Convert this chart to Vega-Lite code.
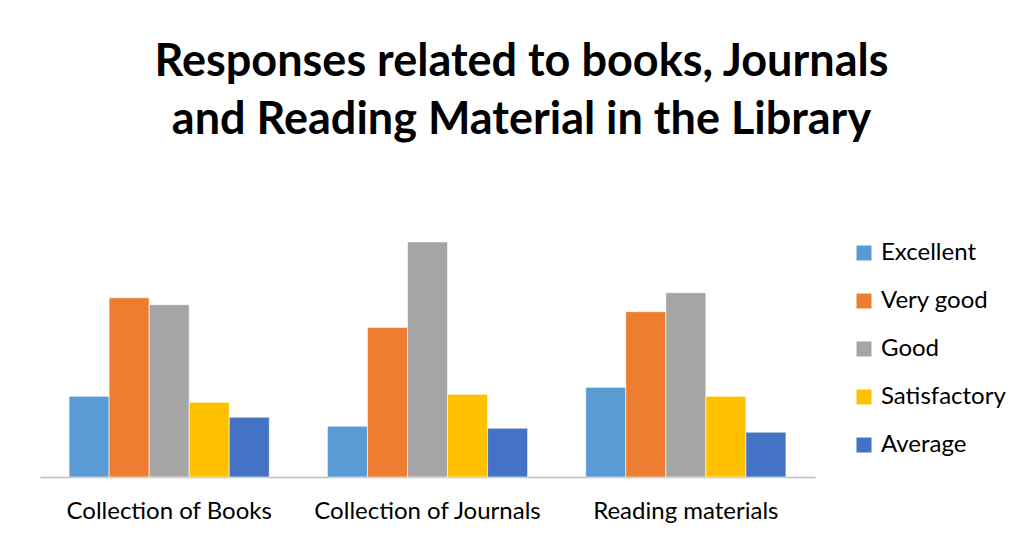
{
  "$schema": "https://vega.github.io/schema/vega-lite/v6.json",
  "autosize": "none",
  "width": 775,
  "height": 249,
  "padding": {"left": 40, "top": 228, "right": 203, "bottom": 58},
  "background": "white",
  "title": {
    "text": ["Responses related to books, Journals", "and Reading Material in the Library"],
    "font": "Lato",
    "fontSize": 45,
    "fontWeight": "bold",
    "color": "#000000",
    "anchor": "middle",
    "frame": "group",
    "dx": 94,
    "offset": 85,
    "lineHeight": 58
  },
  "data": {
    "values": [
      {"category": "Collection of Books", "rating": "Excellent", "value": 81},
      {"category": "Collection of Books", "rating": "Very good", "value": 180},
      {"category": "Collection of Books", "rating": "Good", "value": 173},
      {"category": "Collection of Books", "rating": "Satisfactory", "value": 75},
      {"category": "Collection of Books", "rating": "Average", "value": 60},
      {"category": "Collection of Journals", "rating": "Excellent", "value": 51},
      {"category": "Collection of Journals", "rating": "Very good", "value": 150},
      {"category": "Collection of Journals", "rating": "Good", "value": 236},
      {"category": "Collection of Journals", "rating": "Satisfactory", "value": 83},
      {"category": "Collection of Journals", "rating": "Average", "value": 49},
      {"category": "Reading materials", "rating": "Excellent", "value": 90},
      {"category": "Reading materials", "rating": "Very good", "value": 166},
      {"category": "Reading materials", "rating": "Good", "value": 185},
      {"category": "Reading materials", "rating": "Satisfactory", "value": 81},
      {"category": "Reading materials", "rating": "Average", "value": 45}
    ]
  },
  "mark": {"type": "bar", "stroke": "white", "strokeWidth": 0.6},
  "encoding": {
    "x": {
      "field": "category",
      "type": "nominal",
      "sort": null,
      "title": null,
      "scale": {"paddingInner": 0.225, "paddingOuter": 0.1125},
      "axis": {
        "labelAngle": 0,
        "labelFont": "Lato",
        "labelFontSize": 24,
        "labelLimit": 400,
        "labelColor": "#000000",
        "labelPadding": 22,
        "ticks": false,
        "domainColor": "#bfbfbf",
        "domainWidth": 1.5
      }
    },
    "xOffset": {
      "field": "rating",
      "type": "nominal",
      "sort": ["Excellent", "Very good", "Good", "Satisfactory", "Average"],
      "scale": {"paddingInner": 0, "paddingOuter": 0}
    },
    "y": {
      "field": "value",
      "type": "quantitative",
      "scale": {"domain": [0, 250]},
      "axis": null
    },
    "color": {
      "field": "rating",
      "type": "nominal",
      "sort": ["Excellent", "Very good", "Good", "Satisfactory", "Average"],
      "scale": {
        "domain": ["Excellent", "Very good", "Good", "Satisfactory", "Average"],
        "range": ["#5B9BD5", "#ED7D31", "#A5A5A5", "#FFC000", "#4472C4"]
      },
      "legend": {
        "title": null,
        "orient": "none",
        "legendX": 812,
        "legendY": 13,
        "symbolType": "square",
        "symbolSize": 225,
        "symbolStrokeWidth": 0,
        "labelFont": "Lato",
        "labelFontSize": 24,
        "labelLimit": 300,
        "labelColor": "#000000",
        "labelOffset": 5,
        "rowPadding": 24
      }
    }
  },
  "config": {
    "view": {"stroke": null}
  }
}
